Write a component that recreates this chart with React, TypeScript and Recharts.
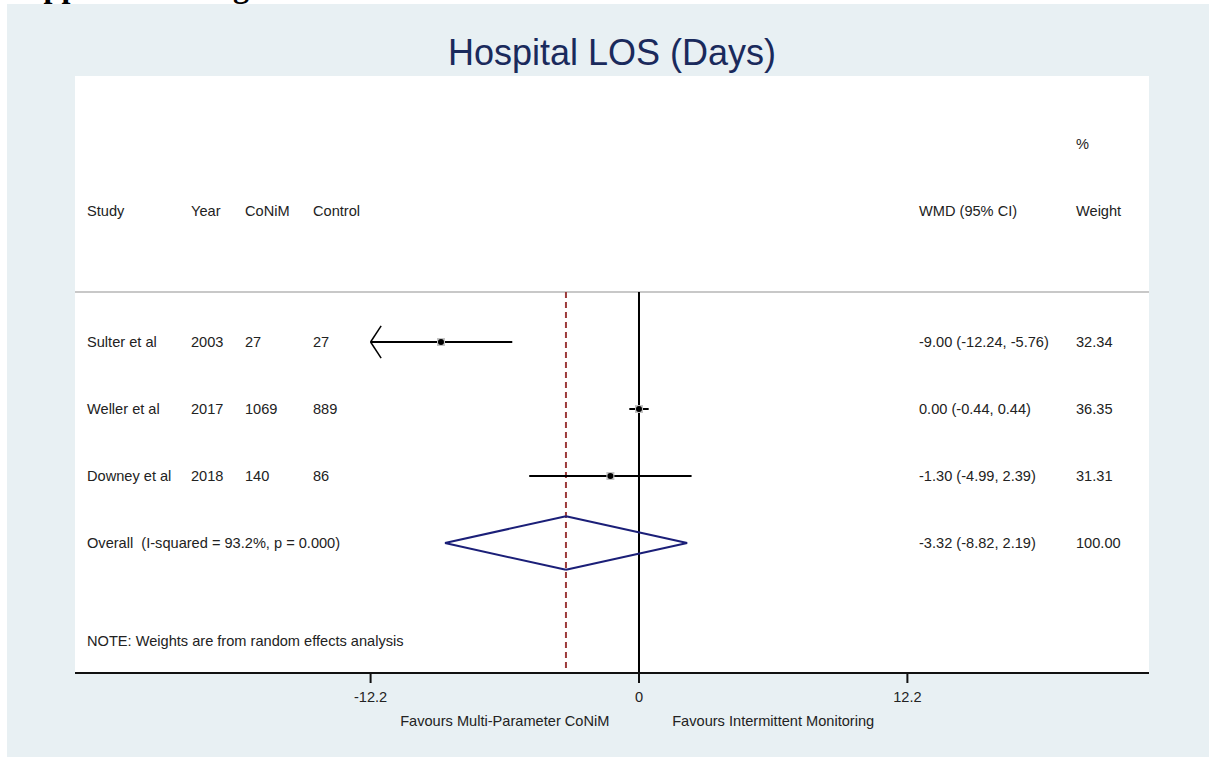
import React from 'react'
import { ComposedChart, XAxis, YAxis, Scatter, ReferenceLine, ReferenceArea, ReferenceDot } from 'recharts'

// study level data
const studies = ['Sulter et al', 'Weller et al', 'Downey et al']
const years = ['2003', '2017', '2018']
const conimN = ['27', '1069', '140']
const controlN = ['27', '889', '86']
const wmd = [-9.0, 0.0, -1.3]
const ciLow = [-12.24, -0.44, -4.99]
const ciHigh = [-5.76, 0.44, 2.39]
const weights = [32.34, 36.35, 31.31]

// pooled estimate
const overallWmd = -3.32
const overallLow = -8.82
const overallHigh = 2.19
const overallWeight = 100.0
const iSquared = 93.2
const pValue = 0.0

const xTicks = [-12.2, 0, 12.2]
const favourLabels = ['Favours Multi-Parameter CoNiM', 'Favours Intermittent Monitoring']
const headers = ['Study', 'Year', 'CoNiM', 'Control', 'WMD (95% CI)', 'Weight']

const FONT = '"Liberation Sans", Arial, Helvetica, sans-serif'
const TEXT = '#222'
const NAVY = '#1b1f78'
const DASH_RED = '#9c3b3b'
const FS = 14.6

// layout (chart coordinates)
const W = 1202
const H = 753
const X_MIN = -25.636
const X_MAX = 23.182
const Y_MIN = -2.97
const Y_MAX = 5.94
const COL_X = [80, 184, 238, 306, 912, 1069]
const ROW_HEADER = -0.955
const ROW_PCT = -1.955
const ROW_SEP = 0.254
const ROW_OVERALL = studies.length + 1
const ROW_NOTE = 5.46
const DIAMOND_H = 0.4
const ARROW_DX = 0.48
const ARROW_DY = 0.24

const fmtCi = (m: number, lo: number, hi: number) =>
  `${m.toFixed(2)} (${lo.toFixed(2)}, ${hi.toFixed(2)})`

const tableRows = [
  { x: 0, y: ROW_PCT, cells: ['', '', '', '', '', '%'] },
  { x: 0, y: ROW_HEADER, cells: headers },
  ...studies.map((s, i) => ({
    x: 0,
    y: i + 1,
    cells: [s, years[i], conimN[i], controlN[i], fmtCi(wmd[i], ciLow[i], ciHigh[i]), weights[i].toFixed(2)],
  })),
  {
    x: 0,
    y: ROW_OVERALL,
    cells: [
      `Overall  (I-squared = ${iSquared.toFixed(1)}%, p = ${pValue.toFixed(3)})`,
      '',
      '',
      '',
      fmtCi(overallWmd, overallLow, overallHigh),
      overallWeight.toFixed(2),
    ],
  },
  { x: 0, y: ROW_NOTE, cells: ['NOTE: Weights are from random effects analysis'] },
]

const points = studies.map((s, i) => ({ x: wmd[i], y: i + 1 }))

const lo = xTicks[0]
const hi = xTicks[xTicks.length - 1]

function TableText(props: any) {
  const { cy, payload } = props
  return (
    <g>
      {payload.cells.map((c: string, i: number) =>
        c ? (
          <text
            key={i}
            x={COL_X[i]}
            y={cy}
            dy="0.35em"
            fontSize={FS}
            fontFamily={FONT}
            fill={TEXT}
            style={{ whiteSpace: 'pre' }}
          >
            {c}
          </text>
        ) : null
      )}
    </g>
  )
}

function StudyMarker(props: any) {
  const { cx, cy } = props
  return (
    <g>
      <rect x={cx - 4} y={cy - 4} width={8} height={8} fill="#c4c4c4" />
      <circle cx={cx} cy={cy} r={3} fill="#000" />
    </g>
  )
}

export default function App() {
  const ciLines: JSX.Element[] = []
  studies.forEach((s, i) => {
    const row = i + 1
    const left = Math.max(ciLow[i], lo)
    const right = Math.min(ciHigh[i], hi)
    ciLines.push(
      <ReferenceLine
        key={`ci-${i}`}
        xAxisId="main"
        segment={[{ x: left, y: row }, { x: right, y: row }]}
        stroke="#000"
        strokeWidth={2}
        ifOverflow="visible"
      />
    )
    if (ciLow[i] < lo) {
      ;[-1, 1].forEach((d) =>
        ciLines.push(
          <ReferenceLine
            key={`arr-${i}-${d}`}
            xAxisId="main"
            segment={[{ x: lo, y: row }, { x: lo + ARROW_DX, y: row + d * ARROW_DY }]}
            stroke="#000"
            strokeWidth={1.5}
            ifOverflow="visible"
          />
        )
      )
    }
  })

  const diamondPts = [
    { x: overallLow, y: ROW_OVERALL },
    { x: overallWmd, y: ROW_OVERALL - DIAMOND_H },
    { x: overallHigh, y: ROW_OVERALL },
    { x: overallWmd, y: ROW_OVERALL + DIAMOND_H },
  ]

  // favour labels sit halfway between 0 and the outer ticks
  const favourX = [lo / 2, hi / 2]

  return (
    <div
      style={{
        position: 'absolute',
        left: 0,
        top: 0,
        width: 1209,
        height: 757,
        background: '#fff',
        overflow: 'hidden',
      }}
    >
      <svg width={1209} height={20} style={{ position: 'absolute', left: 0, top: 0 }}>
        <text x={8} y={-3} fontSize={32} fontWeight="bold" fontFamily='"Liberation Serif", "Times New Roman", serif' fill="#000">
          Supplemental Figure
        </text>
      </svg>
      <div style={{ position: 'absolute', left: 7, top: 4, width: W, height: H, background: '#e8f0f3' }}>
        <ComposedChart width={W} height={H} margin={{ top: 72, right: 60, bottom: 54, left: 68 }}>
          <XAxis
            xAxisId="main"
            type="number"
            dataKey="x"
            domain={[X_MIN, X_MAX]}
            allowDataOverflow
            ticks={xTicks}
            interval={0}
            height={30}
            tickSize={10}
            tickMargin={9}
            axisLine={{ stroke: '#111', strokeWidth: 2 }}
            tickLine={{ stroke: '#111', strokeWidth: 2 }}
            tick={{ fontSize: FS, fill: TEXT, fontFamily: FONT }}
            tickFormatter={(v: number) => String(v)}
          />
          <YAxis type="number" dataKey="y" domain={[Y_MIN, Y_MAX]} reversed hide allowDataOverflow />
          <ReferenceArea
            xAxisId="main"
            x1={X_MIN}
            x2={X_MAX}
            y1={Y_MIN}
            y2={Y_MAX}
            fill="#fff"
            fillOpacity={1}
            stroke="none"
            ifOverflow="visible"
          />
          <ReferenceLine xAxisId="main" y={ROW_SEP} stroke="#c8c8c8" strokeWidth={2} />
          <ReferenceLine
            xAxisId="main"
            segment={[{ x: overallWmd, y: ROW_SEP }, { x: overallWmd, y: Y_MAX }]}
            stroke={DASH_RED}
            strokeWidth={2}
            strokeDasharray="6 4"
          />
          <ReferenceLine
            xAxisId="main"
            segment={[{ x: 0, y: ROW_SEP }, { x: 0, y: Y_MAX }]}
            stroke="#000"
            strokeWidth={2}
          />
          {ciLines}
          {diamondPts.map((p, i) => {
            const q = diamondPts[(i + 1) % diamondPts.length]
            return (
              <ReferenceLine
                key={`dia-${i}`}
                xAxisId="main"
                segment={[p, q]}
                stroke={NAVY}
                strokeWidth={2}
                ifOverflow="visible"
              />
            )
          })}
          {favourX.map((fx, i) => (
            <ReferenceDot
              key={`fav-${i}`}
              xAxisId="main"
              x={fx}
              y={Y_MAX}
              r={1}
              fill="none"
              stroke="none"
              ifOverflow="visible"
              label={{
                value: favourLabels[i],
                position: 'bottom',
                offset: 42,
                fontSize: FS,
                fill: TEXT,
                fontFamily: FONT,
              }}
            />
          ))}
          <Scatter xAxisId="main" data={points} shape={<StudyMarker />} isAnimationActive={false} />
          <Scatter xAxisId="main" data={tableRows} shape={<TableText />} isAnimationActive={false} />
        </ComposedChart>
      </div>
      <svg width={1209} height={90} style={{ position: 'absolute', left: 0, top: 0, pointerEvents: 'none' }}>
        <text x={612} y={65} textAnchor="middle" fontSize={36} fontFamily={FONT} fill="#1a2a5c">
          Hospital LOS (Days)
        </text>
      </svg>
    </div>
  )
}
